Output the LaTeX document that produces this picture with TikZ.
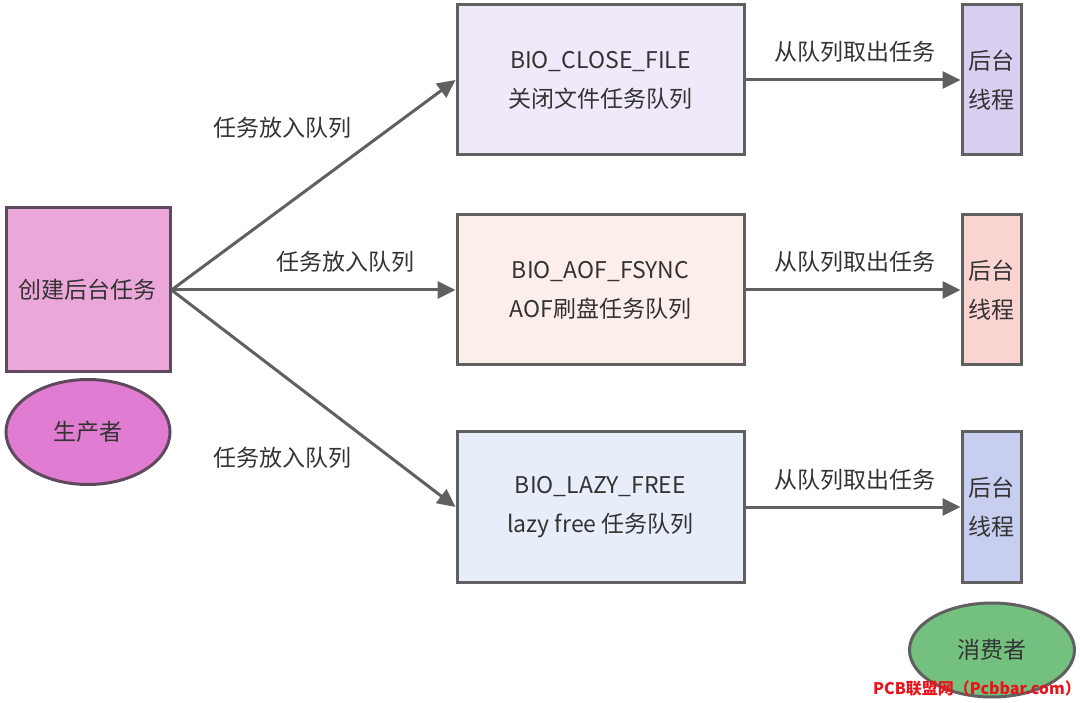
\documentclass[tikz,border=0pt]{standalone}
\usepackage{fontspec}
\setmainfont{Noto Sans CJK SC}
\newfontfamily\cjk{Noto Sans CJK SC}
\usetikzlibrary{arrows.meta,shapes.geometric}
\definecolor{edgec}{HTML}{606060}
\definecolor{txt}{HTML}{333333}
\definecolor{prodbox}{HTML}{EBA7DA}
\definecolor{prodell}{HTML}{E07DD2}
\definecolor{prodline}{HTML}{5E4A5C}
\definecolor{qa}{HTML}{EFE9F9}
\definecolor{qb}{HTML}{FCEFEB}
\definecolor{qc}{HTML}{E7EEFA}
\definecolor{ta}{HTML}{DACEF1}
\definecolor{tb}{HTML}{F9D4D0}
\definecolor{tc}{HTML}{C7CEEF}
\definecolor{cons}{HTML}{74C17F}
\definecolor{wm}{HTML}{E8141B}
\begin{document}
\begin{tikzpicture}[x=1pt,y=-1pt,
  every node/.style={font=\fontsize{23}{27}\selectfont, text=txt},
  qbox/.style={draw=edgec, line width=3pt, minimum width=287pt, minimum height=150pt, inner sep=0pt, align=center},
  tbox/.style={draw=edgec, line width=3pt, minimum width=59pt, minimum height=150pt, inner sep=0pt, align=center},
  conn/.style={draw=edgec, line width=3pt, -{Triangle[length=18pt,width=17pt]}},
  lbl/.style={inner sep=0pt}
]
\useasboundingbox (0,0) rectangle (1080,703);
% producer
\node[draw=prodline, line width=3pt, fill=prodbox, minimum width=164pt, minimum height=164pt, inner sep=0pt] (prod) at (88,290) {创建后台任务};
\node[ellipse, draw=prodline, line width=3pt, fill=prodell, minimum width=164pt, minimum height=105pt, inner sep=0pt] (prodE) at (88,432) {生产者};
% queues
\node[qbox, fill=qa] (q1) at (600.5,80) {BIO\_CLOSE\_FILE\\[12pt]关闭文件任务队列};
\node[qbox, fill=qb] (q2) at (600.5,290) {BIO\_AOF\_FSYNC\\[12pt]AOF刷盘任务队列};
\node[qbox, fill=qc] (q3) at (600.5,507) {BIO\_LAZY\_FREE\\[12pt]lazy free 任务队列};
% threads
\node[tbox, fill=ta] (t1) at (991.5,80) {后台\\[12pt]线程};
\node[tbox, fill=tb] (t2) at (991.5,290) {后台\\[12pt]线程};
\node[tbox, fill=tc] (t3) at (991.5,507) {后台\\[12pt]线程};
% consumer
\node[ellipse, draw=edgec, line width=3pt, fill=cons, minimum width=165pt, minimum height=94pt, inner sep=0pt] (consE) at (992,650) {消费者};
% connectors
\coordinate (src) at (prod.east);
\draw[conn] (src) -- (q1.west);
\draw[conn] (src) -- (q2.west);
\draw[conn] (src) -- (q3.west);
\draw[conn] (q1.east) -- (t1.west);
\draw[conn] (q2.east) -- (t2.west);
\draw[conn] (q3.east) -- (t3.west);
% labels
\node[lbl] (l1) at (282,128) {任务放入队列};
\node[lbl] (l2) at (345,262) {任务放入队列};
\node[lbl] (l3) at (282,458) {任务放入队列};
\node[lbl] (r1) at (855,52) {从队列取出任务};
\node[lbl] (r2) at (855,262) {从队列取出任务};
\node[lbl] (r3) at (855,480) {从队列取出任务};
% watermark
\node[lbl, text=wm, font=\fontsize{16}{18}\selectfont\bfseries] (wmk) at (977,688) {PCB联盟网（Pcbbar.com）};
\end{tikzpicture}
\end{document}
